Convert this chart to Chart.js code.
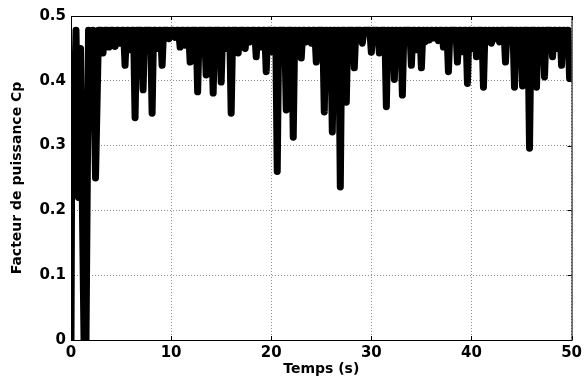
<!DOCTYPE html>
<html>
<head>
<meta charset="utf-8">
<script src="https://cdn.jsdelivr.net/npm/chart.js@4"></script>
<style>
  html, body { margin: 0; padding: 0; background: #fff; }
  #wrap { width: 586px; height: 381px; position: relative; }
</style>
</head>
<body>
<div id="wrap"><canvas id="chartCp"></canvas></div>
<script>
  // time (s) and power coefficient Cp:
  // each row = one dip, then the edges of the following top plateau
  var temps = [0, 0.1, 0.25, 0.5, 0.75, 0.95, 1.3, 1.5, 1.75, 1.95, 2.2, 2.45, 2.75, 3.05,
    3.2, 3.35, 3.65,    3.8, 3.95, 4.25,    4.4, 4.55, 4.75,    4.9, 5.05, 5.25,
    5.4, 5.55, 5.75,    5.9, 6.05, 6.25,    6.4, 6.55, 7.05,    7.2, 7.35, 7.95,
    8.1, 8.25, 8.45,    8.6, 8.75, 8.95,    9.1, 9.25, 9.65,    9.8, 9.95, 10.25,
    10.4, 10.55, 10.75, 10.9, 11.05, 11.25, 11.4, 11.55, 11.75, 11.9, 12.05, 12.5,
    12.65, 12.8, 13.35, 13.5, 13.65, 14.05, 14.2, 14.35, 14.85, 15.0, 15.15, 15.35,
    15.5, 15.65, 15.85, 16.0, 16.15, 16.55, 16.7, 16.85, 17.25, 17.4, 17.55, 17.75,
    17.9, 18.05, 18.35, 18.5, 18.65, 18.85, 19.0, 19.15, 19.35, 19.5, 19.65, 19.9,
    20.05, 20.2, 20.45, 20.6, 20.75, 21.35, 21.5, 21.65, 22.05, 22.2, 22.35, 22.45,
    22.6, 22.75, 22.85, 23.0, 23.15, 23.35, 23.5, 23.65, 23.85, 24.0, 24.15, 24.35,
    24.5, 24.65, 25.15, 25.3, 25.45, 25.55, 25.7, 25.85, 25.95, 26.1, 26.25, 26.35,
    26.5, 26.65, 26.75, 26.9, 27.05, 27.35, 27.5, 27.65, 28.15, 28.3, 28.45, 28.95,
    29.1, 29.25, 29.85, 30.0, 30.15, 30.65, 30.8, 30.95, 31.35, 31.5, 31.65, 31.75,
    31.9, 32.05, 32.15, 32.3, 32.45, 32.55, 32.7, 32.85, 32.95, 33.1, 33.25, 33.85,
    34.0, 34.15, 34.35, 34.5, 34.65, 34.85, 35.0, 35.15, 35.25, 35.4, 35.55, 35.65,
    35.8, 35.95, 36.1, 36.25, 36.4, 36.55, 36.7, 36.85, 37.05, 37.2, 37.35, 37.55,
    37.7, 37.85, 38.45, 38.6, 38.75, 38.95, 39.1, 39.25, 39.45, 39.6, 39.75, 39.9,
    40.05, 40.2, 40.35, 40.5, 40.65, 41.05, 41.2, 41.35, 41.45, 41.6, 41.75, 41.85,
    42.0, 42.15, 42.25, 42.4, 42.55, 42.65, 42.8, 42.95, 43.25, 43.4, 43.55, 44.15,
    44.3, 44.45, 44.55, 44.7, 44.85, 44.95, 45.1, 45.25, 45.65, 45.8, 45.95, 46.35,
    46.5, 46.65, 46.75, 46.9, 47.05, 47.15, 47.3, 47.45, 47.95, 48.1, 48.25, 48.4,
    48.55, 48.7, 48.85, 49.0, 49.15, 49.25, 49.4, 49.55, 49.65, 49.8, 50];
  var cp = [0, 0.41, 0.3, 0.478, 0.22, 0.45, 0, 0, 0.478, 0.36, 0.478, 0.25, 0.478, 0.478,
    0.443, 0.478, 0.478, 0.452, 0.478, 0.478, 0.453, 0.478, 0.478, 0.458, 0.478, 0.478,
    0.424, 0.478, 0.478, 0.448, 0.478, 0.478, 0.343, 0.478, 0.478, 0.386, 0.478, 0.478,
    0.35, 0.478, 0.478,  0.45, 0.478, 0.478, 0.424, 0.478, 0.478, 0.465, 0.478, 0.478,
    0.467, 0.478, 0.478, 0.452, 0.478, 0.478, 0.455, 0.478, 0.478, 0.429, 0.478, 0.478,
    0.383, 0.478, 0.478, 0.409, 0.478, 0.478, 0.381, 0.478, 0.478, 0.398, 0.478, 0.478,
    0.45, 0.478, 0.478,  0.35, 0.478, 0.478,  0.443, 0.478, 0.478, 0.45, 0.478, 0.478,
    0.46, 0.478, 0.478,  0.437, 0.478, 0.478, 0.452, 0.478, 0.478, 0.414, 0.478, 0.478,
    0.445, 0.478, 0.478, 0.26, 0.478, 0.478,  0.355, 0.478, 0.478, 0.313, 0.478, 0.478,
    0.445, 0.478, 0.478, 0.435, 0.478, 0.478, 0.46, 0.478, 0.478,  0.458, 0.478, 0.478,
    0.429, 0.478, 0.478, 0.352, 0.478, 0.478, 0.41, 0.478, 0.478,  0.321, 0.478, 0.478,
    0.4, 0.478, 0.478,   0.236, 0.478, 0.478, 0.367, 0.478, 0.478, 0.42, 0.478, 0.478,
    0.458, 0.478, 0.478, 0.444, 0.478, 0.478, 0.443, 0.478, 0.478, 0.36, 0.478, 0.478,
    0.44, 0.478, 0.478,  0.402, 0.478, 0.478, 0.445, 0.478, 0.478, 0.378, 0.478, 0.478,
    0.424, 0.478, 0.478, 0.448, 0.478, 0.478, 0.42, 0.478, 0.478,  0.46, 0.478, 0.478,
    0.463, 0.478, 0.478, 0.466, 0.478, 0.478, 0.462, 0.478, 0.478, 0.452, 0.478, 0.478,
    0.414, 0.478, 0.478, 0.429, 0.478, 0.478, 0.445, 0.478, 0.478, 0.396, 0.478, 0.478,
    0.45, 0.478, 0.478,  0.437, 0.478, 0.478, 0.39, 0.478, 0.478,  0.46, 0.478, 0.478,
    0.458, 0.478, 0.478, 0.465, 0.478, 0.478, 0.46, 0.478, 0.478,  0.429, 0.478, 0.478,
    0.39, 0.478, 0.478,  0.44, 0.478, 0.478,  0.392, 0.478, 0.478, 0.296, 0.478, 0.478,
    0.39, 0.478, 0.478,  0.445, 0.478, 0.478, 0.406, 0.478, 0.478, 0.437, 0.478, 0.478,
    0.45, 0.478, 0.478,  0.424, 0.478, 0.478, 0.45, 0.478, 0.478,  0.404, 0.41];
  var yTickLabels = ["0", "0.1", "0.2", "0.3", "0.4", "0.5"];

  var points = temps.map(function(t, i) { return { x: t, y: cp[i] }; });

  var tickFont = { family: "DejaVu Sans", size: 15, weight: "bold" };
  var titleFont = { family: "DejaVu Sans", size: 14, weight: "bold" };

  // black axes box with small inward ticks, like a matlab figure
  var boxPlugin = {
    id: "box",
    afterDatasetsDraw: function(chart) {
      var a = chart.chartArea, c = chart.ctx;
      var xs = chart.scales.x, ys = chart.scales.y;
      c.save();
      c.strokeStyle = "#000";
      c.lineWidth = 1;
      c.strokeRect(a.left + 0.5, a.top + 0.5, a.right - a.left, a.bottom - a.top);
      c.beginPath();
      xs.ticks.forEach(function(t) {
        var px = Math.round(xs.getPixelForValue(t.value)) + 0.5;
        c.moveTo(px, a.bottom); c.lineTo(px, a.bottom - 4);
        c.moveTo(px, a.top); c.lineTo(px, a.top + 4);
      });
      ys.ticks.forEach(function(t) {
        var py = Math.round(ys.getPixelForValue(t.value)) + 0.5;
        c.moveTo(a.left, py); c.lineTo(a.left + 4, py);
        c.moveTo(a.right, py); c.lineTo(a.right - 4, py);
      });
      c.stroke();
      c.restore();
    }
  };

  var ctx = document.getElementById("chartCp").getContext("2d");
  var myChart = new Chart(ctx, {
    type: "line",
    data: {
      datasets: [{
        data: points,
        borderColor: "#000",
        backgroundColor: "#000",
        borderWidth: 7,
        pointRadius: 0,
        tension: 0,
        fill: false,
        borderJoinStyle: "round",
        borderCapStyle: "round"
      }]
    },
    options: {
      responsive: true,
      maintainAspectRatio: false,
      animation: false,
      layout: { padding: { top: 16, right: 13, left: 0, bottom: 0 } },
      plugins: {
        legend: { display: false },
        tooltip: { enabled: false }
      },
      scales: {
        x: {
          type: "linear",
          min: 0,
          max: 50,
          ticks: { stepSize: 10, font: tickFont, color: "#000", padding: 4, maxRotation: 0 },
          grid: { color: "#8c8c8c", lineWidth: 1, drawTicks: false },
          border: { display: false, dash: [1, 2] },
          title: { display: true, text: "Temps (s)", font: titleFont, color: "#000", padding: { top: 3, bottom: 3 } },
          afterFit: function(s) { s.height = 41; }
        },
        y: {
          min: 0,
          max: 0.5,
          ticks: {
            stepSize: 0.1, font: tickFont, color: "#000", padding: 5,
            callback: function(v) { return yTickLabels[Math.round(v * 10)]; }
          },
          grid: { color: "#8c8c8c", lineWidth: 1, drawTicks: false },
          border: { display: false, dash: [1, 2] },
          title: { display: true, text: "Facteur de puissance Cp", font: titleFont, color: "#000", padding: { top: 9, bottom: 9 } },
          afterFit: function(s) { s.width = 71; }
        }
      }
    },
    plugins: [boxPlugin]
  });
</script>
</body>
</html>
